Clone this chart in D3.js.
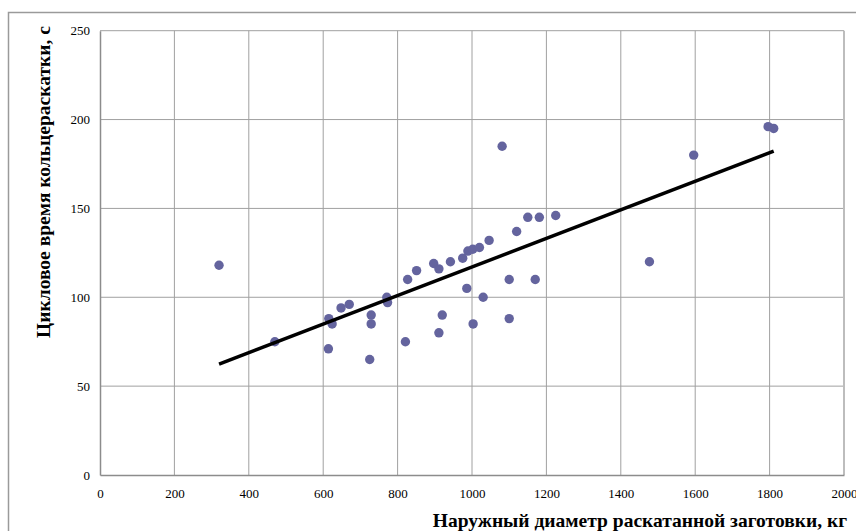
<!DOCTYPE html>
<html lang="ru">
<head>
<meta charset="utf-8" />
<title>Цикловое время кольцераскатки</title>
<style>
  body{margin:0;background:#fff;}
</style>
<script src="https://cdn.jsdelivr.net/npm/d3@7.9.0/dist/d3.min.js"></script>
</head>
<body>
<div id="chart"></div>
<script>
/* ───── data ───── */
const diameter = [320,470,615,624,614,648,670,729,729,725,771,773,821,827,851,897,911,911,920,942,
                  975,986,989,1002,1003,1020,1030,1046,1081,1100,1100,1120,1150,1170,1181,1225,
                  1477,1596,1796,1811];
const cycleTime = [118,75,88,85,71,94,96,90,85,65,100,97,75,110,115,119,116,80,90,120,
                   122,105,126,127,85,128,100,132,185,110,88,137,145,110,145,146,
                   120,180,196,195];
const xTicks = [0,200,400,600,800,1000,1200,1400,1600,1800,2000];
const yTicks = [0,50,100,150,200,250];
const xTitle = 'Наружный диаметр раскатанной заготовки, кг';
const yTitle = 'Цикловое время кольцераскатки, с';

/* ───── layout ───── */
const W = 856, H = 531;
const P = {left:100, right:844, top:30.7, bottom:475};
const SERIF = '"Liberation Serif","Times New Roman",serif';

const svg = d3.select('#chart').append('svg')
  .attr('width',W).attr('height',H).style('display','block');

// outer chart frame (runs off right / bottom edge)
svg.append('rect')
  .attr('x',8.5).attr('y',12.5).attr('width',W+10).attr('height',H+10)
  .attr('fill','none').attr('stroke','#9a9a9a').attr('stroke-width',1.5);

const x = d3.scaleLinear([0,2000],[P.left,P.right]);
const y = d3.scaleLinear([0,250],[P.bottom,P.top]);

/* grid */
const grid = svg.append('g').attr('stroke','#a0a0a0').attr('stroke-width',1);
grid.selectAll('.gx').data(xTicks.slice(1,-1)).join('line')
  .attr('x1',d=>x(d)).attr('x2',d=>x(d)).attr('y1',P.top).attr('y2',P.bottom);
grid.selectAll('.gy').data(yTicks.slice(1)).join('line')
  .attr('x1',P.left).attr('x2',P.right).attr('y1',d=>y(d)).attr('y2',d=>y(d));

// plot border: right edge lighter & thicker like Excel
svg.append('line').attr('x1',P.right).attr('x2',P.right).attr('y1',P.top).attr('y2',P.bottom)
  .attr('stroke','#bdbdbd').attr('stroke-width',2);

/* axes */
const fmt = d3.format('d');
const xAxis = svg.append('g').attr('transform',`translate(0,${P.bottom})`)
  .call(d3.axisBottom(x).tickValues(xTicks).tickFormat(fmt).tickSize(0).tickPadding(14));
xAxis.select('.domain').attr('stroke','#8c8c8c').attr('stroke-width',1.5);

const yAxis = svg.append('g').attr('transform',`translate(${P.left},0)`)
  .call(d3.axisLeft(y).tickValues(yTicks).tickFormat(fmt).tickSize(0).tickPadding(10));
yAxis.select('.domain').attr('stroke','#8c8c8c').attr('stroke-width',1.5);
svg.selectAll('.tick text')
  .style('font-family',SERIF).style('font-size','13px').attr('fill','#000');

/* trend line (least squares, Excel style: from min to max x) */
const pts = diameter.map((d,i)=>({x:d,y:cycleTime[i]}));
const mx = d3.mean(pts,d=>d.x), my = d3.mean(pts,d=>d.y);
const slope = d3.sum(pts,d=>(d.x-mx)*(d.y-my)) / d3.sum(pts,d=>(d.x-mx)**2);
const icpt = my - slope*mx;
const [x0,x1] = d3.extent(pts,d=>d.x);

/* points */
svg.append('g').selectAll('circle').data(pts).join('circle')
  .attr('cx',d=>x(d.x)).attr('cy',d=>y(d.y)).attr('r',4.7)
  .attr('fill','#64649e');

svg.append('line')
  .attr('x1',x(x0)).attr('y1',y(icpt+slope*x0))
  .attr('x2',x(x1)).attr('y2',y(icpt+slope*x1))
  .attr('stroke','#000').attr('stroke-width',3.5);

/* titles */
const title = s => s.style('font-family',SERIF).style('font-size','19.5px')
  .style('font-weight','bold').attr('fill','#000');
svg.append('text').call(title)
  .attr('x',847).attr('y',527).attr('text-anchor','end').text(xTitle);
svg.append('text').call(title)
  .attr('transform','translate(50,182) rotate(-90)')
  .attr('text-anchor','middle').text(yTitle);
</script>
</body>
</html>
